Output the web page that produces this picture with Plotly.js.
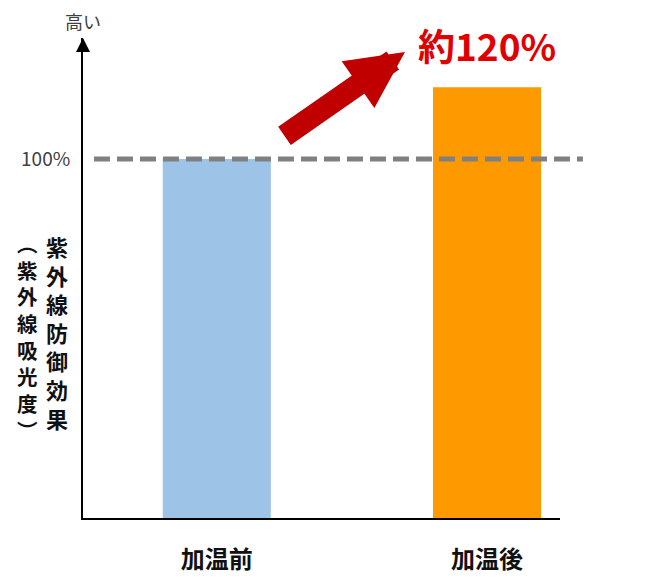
<!DOCTYPE html>
<html>
<head>
<meta charset="utf-8">
<script src="https://cdn.plot.ly/plotly-3.0.1.min.js"></script>
<style>
  html, body { margin: 0; padding: 0; background: #fff; }
  #chart { width: 670px; height: 586px; }
</style>
</head>
<body>
<div id="chart"></div>
<script>
// values
const categories = ["加温前", "加温後"];
const values = [100, 120];
const barColors = ["#9DC3E6", "#FF9900"];
const referenceValue = 100;
const yTickVals = [100];
const yTickText = ["100%"];
const increaseLabel = "約120%";
const titleMain = "紫外線防御効果";
const titleSub = "︵紫外線吸光度︶";

const jp = '"Noto Sans CJK JP", "Noto Sans", sans-serif';

const trace = {
  type: "bar",
  x: categories,
  y: values,
  width: 0.4,
  marker: { color: barColors },
  hoverinfo: "none",
};

// vertical writing: one character per line
const vertical = (str) => str.split("").join("<br>");

const layout = {
  width: 670,
  height: 586,
  margin: { l: 83, r: 110, t: 38, b: 68 },
  paper_bgcolor: "#ffffff",
  plot_bgcolor: "#ffffff",
  showlegend: false,
  xaxis: {
    range: [-0.495, 1.27],
    showline: true,
    linecolor: "#000000",
    linewidth: 2,
    ticks: "",
    showgrid: false,
    zeroline: false,
    ticklabelstandoff: 19,
    tickfont: { family: jp, size: 24, color: "#111111", weight: "bold" },
  },
  yaxis: {
    range: [0, 133.7],
    showline: true,
    linecolor: "#000000",
    linewidth: 2,
    ticks: "",
    showgrid: false,
    zeroline: false,
    tickvals: yTickVals,
    ticktext: yTickText,
    ticklabelstandoff: 7,
    tickfont: { family: jp, size: 19, color: "#404040" },
  },
  shapes: [
    {
      type: "line",
      xref: "paper",
      yref: "y",
      x0: 0.023,
      x1: 1.048,
      y0: referenceValue,
      y1: referenceValue,
      layer: "above",
      line: { color: "#808080", width: 5, dash: "16px,7px" },
    },
  ],
  annotations: [
    // arrowhead on top of the y axis
    {
      xref: "paper", yref: "paper", x: 0, y: 1,
      axref: "pixel", ayref: "pixel", ax: 0, ay: 14,
      text: "", showarrow: true, arrowhead: 2, arrowsize: 1.4,
      arrowwidth: 2, arrowcolor: "#000000",
    },
    {
      xref: "paper", yref: "paper", x: 0, y: 1.035,
      xanchor: "center", yanchor: "middle",
      text: "高い", showarrow: false,
      font: { family: jp, size: 18, color: "#404040" },
    },
    // two-column vertical axis title
    {
      xref: "paper", yref: "paper", x: -0.055, y: 0.3875,
      xanchor: "center", yanchor: "middle",
      text: vertical(titleMain), showarrow: false,
      font: { family: jp, size: 22, color: "#111111", weight: "bold" },
    },
    {
      xref: "paper", yref: "paper", x: -0.117, y: 0.379,
      xanchor: "center", yanchor: "middle",
      text: vertical(titleSub), showarrow: false,
      font: { family: jp, size: 20.5, color: "#111111", weight: "bold" },
    },
    // big red increase arrow
    {
      xref: "paper", yref: "paper", x: 0.675, y: 0.971,
      axref: "pixel", ayref: "pixel", ax: -122, ay: 85,
      text: "", showarrow: true, arrowhead: 2, arrowsize: 0.52,
      arrowwidth: 22, arrowcolor: "#C00000",
    },
    {
      xref: "x", yref: "paper", x: 1, y: 0.985,
      xanchor: "center", yanchor: "middle",
      text: increaseLabel, showarrow: false,
      font: { family: jp, size: 37, color: "#E00000", weight: "bold" },
    },
  ],
};

Plotly.newPlot("chart", [trace], layout, { staticPlot: true });
</script>
</body>
</html>
